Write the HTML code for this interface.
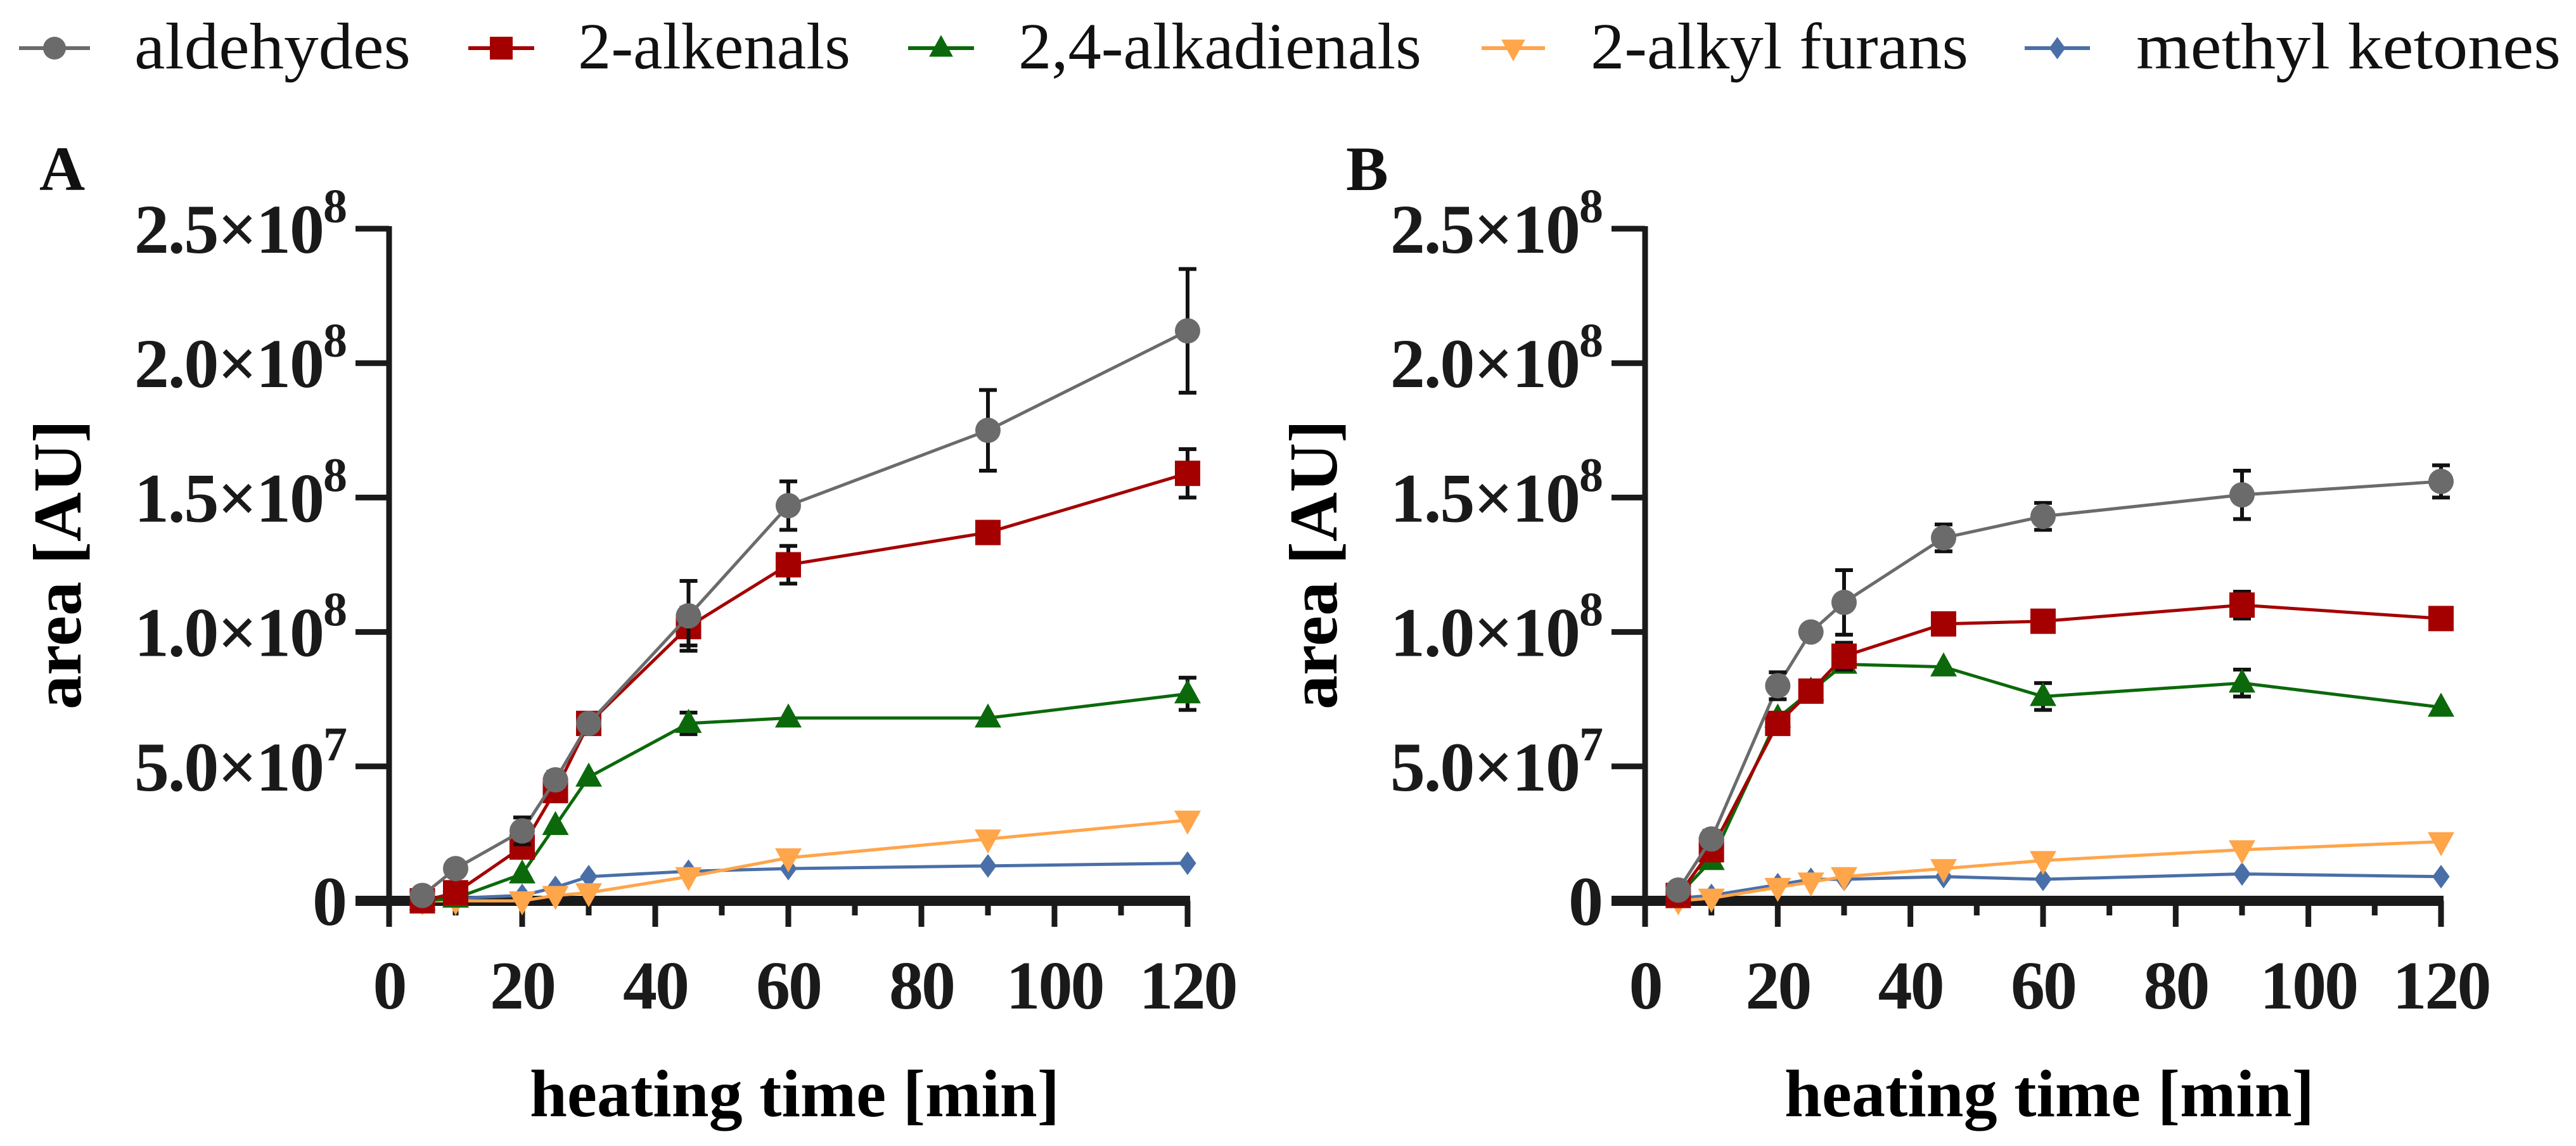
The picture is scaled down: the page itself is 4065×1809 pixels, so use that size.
<!DOCTYPE html>
<html><head><meta charset="utf-8"><style>
html,body{margin:0;padding:0;background:#fff;}
svg{display:block;}
text{font-family:"Liberation Serif",serif;}
</style></head><body>
<svg id="chart" width="4065" height="1809" viewBox="0 0 4065 1809" xmlns="http://www.w3.org/2000/svg" font-family="Liberation Serif, serif">
<g id="legend"></g>
<g id="panelA"></g>
<g id="panelB"></g>
</svg>
<script>
const times = [5,10,20,25,30,45,60,90,120];
const seriesNames = ["aldehydes","2-alkenals","2,4-alkadienals","2-alkyl furans","methyl ketones"];
const xTicks = [0,20,40,60,80,100,120];
const yTickVals = [0,0.5,1.0,1.5,2.0,2.5];
const yTickMant = ["0","5.0","1.0","1.5","2.0","2.5"];
const yTickExp = ["","7","8","8","8","8"];
// Panel A values (x1e8)
const aAld = [0.02,0.12,0.26,0.45,0.66,1.06,1.47,1.75,2.12];
const aAldErr = [0,0,0.05,0.03,0,0.13,0.09,0.15,0.23];
const aAlk = [0,0.03,0.20,0.41,0.66,1.02,1.25,1.37,1.59];
const aAlkErr = [0,0,0.02,0.02,0,0.07,0.07,0.04,0.09];
const aDie = [0,0.01,0.10,0.28,0.46,0.66,0.68,0.68,0.77];
const aDieErr = [0,0,0,0,0,0.04,0,0,0.06];
const aFur = [0,0,0,0.02,0.03,0.09,0.16,0.23,0.30];
const aKet = [0,0.01,0.02,0.05,0.09,0.11,0.12,0.13,0.14];
// Panel B values (x1e8)
const bAld = [0.04,0.23,0.80,1.00,1.11,1.35,1.43,1.51,1.56];
const bAldErr = [0,0.03,0.05,0,0.12,0.05,0.05,0.09,0.06];
const bAlk = [0.02,0.19,0.66,0.78,0.91,1.03,1.04,1.10,1.05];
const bAlkErr = [0,0,0,0,0.05,0,0,0.05,0];
const bDie = [0.02,0.15,0.68,0.78,0.88,0.87,0.76,0.81,0.72];
const bDieErr = [0,0,0,0,0,0,0.05,0.05,0];
const bFur = [0,0.01,0.05,0.07,0.09,0.12,0.15,0.19,0.22];
const bKet = [0.01,0.02,0.06,0.08,0.08,0.09,0.08,0.10,0.09];

const colors = ["#6b6b6b","#a50000","#0b690b","#ffa54a","#4a6fa8"];
const shapes = ["circle","square","tri","tridown","diamond"];
const NS = "http://www.w3.org/2000/svg";
const FF = "Liberation Serif, serif";
function mk(tag, attrs, parent){const e=document.createElementNS(NS,tag);for(const k in attrs)e.setAttribute(k,attrs[k]);parent.appendChild(e);return e;}

function marker(g, shape, cx, cy, color, s){
  let e;
  if(shape==="circle") e=mk("circle",{cx:cx,cy:cy,r:s,fill:color},g);
  else if(shape==="square") e=mk("rect",{x:cx-s,y:cy-s,width:2*s,height:2*s,fill:color},g);
  else if(shape==="tri") e=mk("polygon",{points:`${cx},${cy-s*1.15} ${cx-s*1.05},${cy+s*0.75} ${cx+s*1.05},${cy+s*0.75}`,fill:color},g);
  else if(shape==="tridown") e=mk("polygon",{points:`${cx},${cy+s*1.15} ${cx-s*1.05},${cy-s*0.75} ${cx+s*1.05},${cy-s*0.75}`,fill:color},g);
  else e=mk("polygon",{points:`${cx},${cy-s*1.1} ${cx+s*0.8},${cy} ${cx},${cy+s*1.1} ${cx-s*0.8},${cy}`,fill:color},g);
  
  
  return e;
}

function drawPanel(g, x0, x120, label, labelX, data, errs){
  const y0=1422, yTop=361;
  const xs = t => x0 + (x120-x0)*t/120;
  const ys = v => y0 - (y0-yTop)*v/2.5;
  const pl = mk("text",{x:labelX,y:300,"font-size":100,"font-weight":"bold",fill:"#111","font-family":FF},g);
  pl.textContent=label;
  
  
  const ax = mk("g",{},g);
  
  
  mk("line",{x1:x0,y1:yTop-4,x2:x0,y2:1463,stroke:"#1a1a1a","stroke-width":9},ax);
  mk("line",{x1:x0-53,y1:y0,x2:x120+4,y2:y0,stroke:"#1a1a1a","stroke-width":16},ax);
  yTickVals.forEach((v,i)=>{
    const y=ys(v);
    mk("line",{x1:x0-53,y1:y,x2:x0,y2:y,stroke:"#1a1a1a","stroke-width":9},ax);
    const t=mk("text",{x:x0-68,y:y+38,"font-size":110,"font-weight":"bold","text-anchor":"end",fill:"#1a1a1a","letter-spacing":"-2","font-family":FF},ax);
    
    
    if(yTickExp[i]){
      const a=document.createElementNS(NS,"tspan");a.textContent=yTickMant[i]+"×10";t.appendChild(a);
      const b=document.createElementNS(NS,"tspan");b.setAttribute("dy","-48");b.setAttribute("font-size","76");b.textContent=yTickExp[i];t.appendChild(b);
    } else t.textContent=yTickMant[i];
  });
  for(let m=10;m<=120;m+=10){
    const x=xs(m), major=(m%20===0);
    mk("line",{x1:x,y1:y0,x2:x,y2:major?1463:1445,stroke:"#1a1a1a","stroke-width":9},ax);
  }
  xTicks.forEach(v=>{
    const t=mk("text",{x:xs(v),y:1592,"font-size":108,"font-weight":"bold","text-anchor":"middle",fill:"#1a1a1a","letter-spacing":"-3","font-family":FF},ax);
    t.textContent=String(v);
    
    
  });
  const xt=mk("text",{x:(x0+x120)/2+10,y:1762,"font-size":106,"font-weight":"bold","text-anchor":"middle",fill:"#000","font-family":FF},g);
  xt.textContent="heating time [min]";
  
  
  const yt=mk("text",{x:0,y:0,"font-size":108,"font-weight":"bold","text-anchor":"middle",fill:"#000","font-family":FF,transform:`translate(${x0-487},${(y0+yTop)/2}) rotate(-90)`},g);
  yt.textContent="area [AU]";
  
  
  for(let s=data.length-1;s>=0;s--){
    const sg=mk("g",{},g);
    
    
    const vals=data[s];
    const pts=vals.map((v,i)=>xs(times[i])+","+ys(v)).join(" ");
    const ln=mk("polyline",{points:pts,fill:"none",stroke:colors[s],"stroke-width":5},sg);
    
    
    if(errs[s]) vals.forEach((v,i)=>{
      const e=errs[s][i]; if(!e) return;
      const x=xs(times[i]), a=ys(v+e), b=ys(v-e);
      const eb=mk("path",{d:`M${x},${a}V${b}M${x-14},${a}H${x+14}M${x-14},${b}H${x+14}`,stroke:"#111","stroke-width":6,fill:"none"},sg);
      
      
    });
    vals.forEach((v,i)=>marker(sg,shapes[s],xs(times[i]),ys(v),colors[s],s===4?17:20));
  }
}

const lg=document.getElementById("legend");
const legX=[[30,142,212],[739,843,912],[1433,1537,1607],[2338,2438,2510],[3195,3298,3371]];
const legW=[436,430,636,596,670];
seriesNames.forEach((n,i)=>{
  const it=mk("g",{},lg);
  
  
  mk("line",{x1:legX[i][0],y1:76,x2:legX[i][1],y2:76,stroke:colors[i],"stroke-width":6},it);
  marker(it,shapes[i],(legX[i][0]+legX[i][1])/2,76,colors[i],i===4?16:18);
  const t=mk("text",{x:legX[i][2],y:108,"font-size":104,fill:"#111","font-family":FF,textLength:legW[i],lengthAdjust:"spacingAndGlyphs"},it);
  t.textContent=n;
});

drawPanel(document.getElementById("panelA"),614,1874,"A",62,
  [aAld,aAlk,aDie,aFur,aKet],[aAldErr,aAlkErr,aDieErr,null,null]);
drawPanel(document.getElementById("panelB"),2596,3852,"B",2124,
  [bAld,bAlk,bDie,bFur,bKet],[bAldErr,bAlkErr,bDieErr,null,null]);
</script>
</body></html>
